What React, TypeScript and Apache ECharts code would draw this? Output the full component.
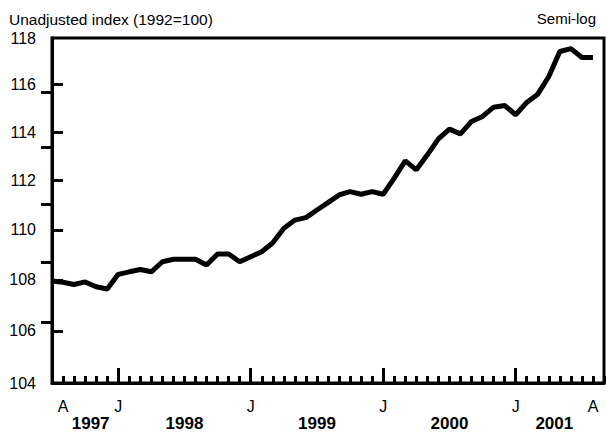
import React, { useEffect, useRef } from "react";
import * as echarts from "echarts";

// Months from Jul 1997 (index 0) to Aug 2001 (index 49); axis ends at Sep 2001 (index 50)
const monthNames = [
  "Jul 1997", "Aug 1997", "Sep 1997", "Oct 1997", "Nov 1997", "Dec 1997",
  "Jan 1998", "Feb 1998", "Mar 1998", "Apr 1998", "May 1998", "Jun 1998",
  "Jul 1998", "Aug 1998", "Sep 1998", "Oct 1998", "Nov 1998", "Dec 1998",
  "Jan 1999", "Feb 1999", "Mar 1999", "Apr 1999", "May 1999", "Jun 1999",
  "Jul 1999", "Aug 1999", "Sep 1999", "Oct 1999", "Nov 1999", "Dec 1999",
  "Jan 2000", "Feb 2000", "Mar 2000", "Apr 2000", "May 2000", "Jun 2000",
  "Jul 2000", "Aug 2000", "Sep 2000", "Oct 2000", "Nov 2000", "Dec 2000",
  "Jan 2001", "Feb 2001", "Mar 2001", "Apr 2001", "May 2001", "Jun 2001",
  "Jul 2001", "Aug 2001",
];

const indexValues = [
  107.96, 107.91, 107.82, 107.92, 107.73, 107.64,
  108.22, 108.32, 108.41, 108.32, 108.72, 108.82,
  108.82, 108.82, 108.59, 109.03, 109.03, 108.72,
  108.92, 109.12, 109.48, 110.06, 110.39, 110.49,
  110.80, 111.10, 111.41, 111.55, 111.44, 111.55,
  111.44, 112.10, 112.81, 112.44, 113.06, 113.72,
  114.13, 113.93, 114.45, 114.66, 115.05, 115.12,
  114.73, 115.25, 115.60, 116.35, 117.42, 117.54,
  117.16, 117.16,
];

const monthLabelPositions = [1, 6, 18, 30, 42, 49];
const monthLabelTexts = ["A", "J", "J", "J", "J", "A"];
const januaryTicks = [6, 18, 30, 42];
const yearLabelPositions = [3.5, 12, 24, 36, 45.5];
const yearLabelTexts = ["1997", "1998", "1999", "2000", "2001"];
const yTickValues = [104, 106, 108, 110, 112, 114, 116, 118];
const rightTickValues = [102.5, 105, 107.5, 110, 112.5];

const FONT = "Liberation Sans, Arial, Helvetica, sans-serif";

export default function App() {
  const ref = useRef<HTMLDivElement>(null);
  useEffect(() => {
    if (!ref.current) return;
    const chart = echarts.init(ref.current, null, { renderer: "svg" });
    const data = indexValues.map((v, i) => [i, v]);
    chart.setOption({
      animation: false,
      backgroundColor: "#fff",
      title: [
        {
          text: "Unadjusted index (1992=100)",
          left: 4,
          top: 6,
          textStyle: { fontFamily: FONT, fontSize: 15.5, fontWeight: "normal", color: "#000" },
        },
        {
          text: "Semi-log",
          right: 6,
          top: 6,
          textStyle: { fontFamily: FONT, fontSize: 15, fontWeight: "normal", color: "#000" },
        },
      ],
      grid: {
        left: 52,
        right: 3,
        top: 38,
        bottom: 58,
        show: true,
        borderColor: "#000",
        borderWidth: 3,
        backgroundColor: "transparent",
      },
      xAxis: [
        {
          type: "value",
          min: 0,
          max: 50,
          interval: 1,
          position: "bottom",
          splitLine: { show: false },
          axisLine: { show: true, lineStyle: { color: "#000", width: 3 } },
          axisTick: { show: true, inside: true, length: 7, lineStyle: { color: "#000", width: 3 } },
          axisLabel: {
            customValues: monthLabelPositions,
            formatter: (v: number) => {
              const i = monthLabelPositions.indexOf(Math.round(v));
              return i >= 0 ? monthLabelTexts[i] : "";
            },
            margin: 15,
            fontFamily: FONT,
            fontSize: 16,
            color: "#000",
          },
        },
        {
          type: "value",
          min: 0,
          max: 50,
          position: "bottom",
          splitLine: { show: false },
          axisLine: { show: false },
          axisTick: {
            show: true,
            inside: true,
            length: 15,
            customValues: januaryTicks,
            lineStyle: { color: "#000", width: 3 },
          },
          axisLabel: {
            customValues: yearLabelPositions,
            formatter: (v: number) => {
              const i = yearLabelPositions.findIndex((p) => Math.abs(p - v) < 0.01);
              return i >= 0 ? yearLabelTexts[i] : "";
            },
            margin: 32,
            fontFamily: FONT,
            fontSize: 17,
            fontWeight: "bold",
            color: "#000",
          },
        },
      ],
      yAxis: [
        {
          type: "log",
          min: 104,
          max: 118,
          position: "left",
          splitLine: { show: false },
          axisLine: { show: true, lineStyle: { color: "#000", width: 3 } },
          axisTick: {
            show: true,
            inside: true,
            length: 11,
            customValues: yTickValues.slice(1, -1),
            lineStyle: { color: "#000", width: 3 },
          },
          axisLabel: {
            customValues: yTickValues,
            formatter: (v: number) => String(Math.round(v)),
            margin: 16,
            fontFamily: FONT,
            fontSize: 16,
            color: "#000",
          },
        },
        {
          type: "log",
          min: 100,
          max: 115,
          position: "right",
          splitLine: { show: false },
          axisLine: { show: true, lineStyle: { color: "#000", width: 3 } },
          axisTick: {
            show: true,
            inside: true,
            length: 11,
            customValues: rightTickValues,
            lineStyle: { color: "#000", width: 3 },
          },
          axisLabel: { show: false },
        },
      ],
      series: [
        {
          type: "line",
          name: "Index",
          xAxisIndex: 0,
          yAxisIndex: 0,
          data,
          showSymbol: false,
          symbol: "none",
          lineStyle: { color: "#000", width: 5 },
          z: 3,
        },
      ],
    });
    return () => chart.dispose();
  }, []);
  return (
    <div
      ref={ref}
      style={{ position: "fixed", left: 0, top: 0, width: 607, height: 441, background: "#fff" }}
    />
  );
}
